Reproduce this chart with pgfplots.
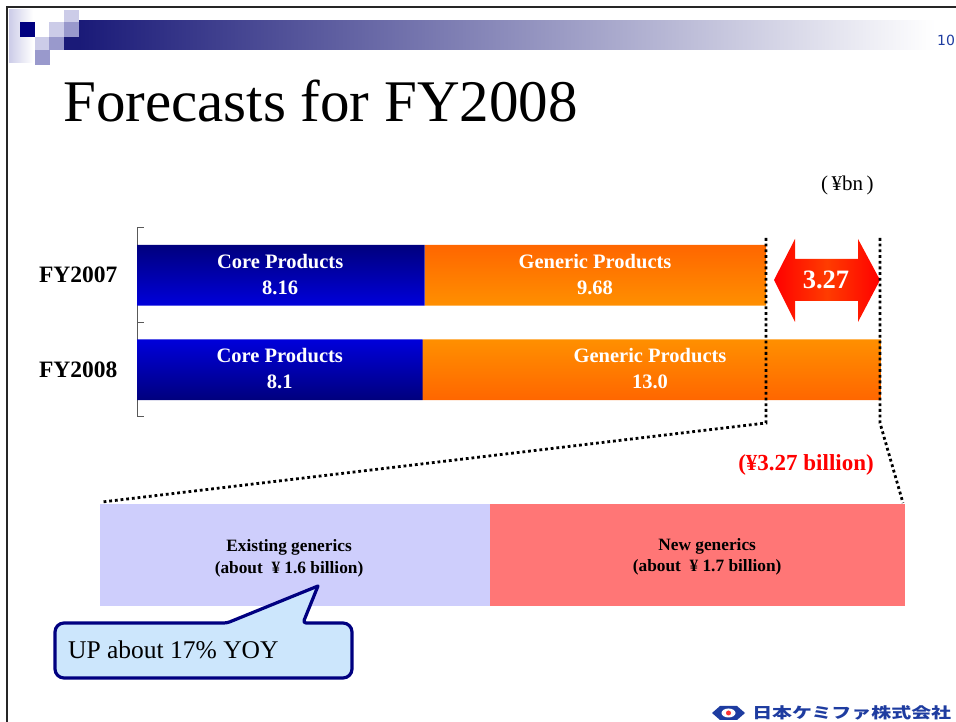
\documentclass[border=0pt]{standalone}
\usepackage{pgfplots}
\pgfplotsset{compat=1.18}
\usepackage{fontspec}
\setmainfont{Liberation Serif}
\newfontfamily\numfont{DejaVu Sans}
\newfontfamily\cjk{Noto Sans CJK JP}
\definecolor{navy}{RGB}{0,0,128}
\definecolor{coreblue}{RGB}{0,0,245}
\definecolor{coredark}{RGB}{0,0,125}
\definecolor{orangeA}{RGB}{255,102,0}
\definecolor{orangeB}{RGB}{255,155,0}
\definecolor{lav}{RGB}{206,206,252}
\definecolor{redpat}{RGB}{255,118,118}
\definecolor{callfill}{RGB}{204,230,252}
\definecolor{sqlight}{RGB}{204,204,232}
\definecolor{sqmed}{RGB}{153,153,204}
\definecolor{barnavy}{RGB}{26,26,120}
\definecolor{logoblue}{RGB}{30,60,160}
\definecolor{arrred}{RGB}{255,0,0}
\definecolor{arrmid}{RGB}{255,60,0}
\begin{document}
\begin{tikzpicture}
\path[use as bounding box] (0pt,0pt) rectangle (956pt,722pt);
\begin{scope}
\clip (0pt,0pt) rectangle (956pt,722pt);
\begin{scope}[x=1pt,y=1pt]
% ---------- header decoration ----------
\shade[left color=sqlight, right color=white] (9,659) rectangle (33,712);
\shade[left color=barnavy, right color=white] (79,672) rectangle (935,701);
\fill[barnavy] (64,672) rectangle (79,685);
\fill[navy] (20,685) rectangle (35,700);
\fill[sqlight] (64,700) rectangle (79,712);
\fill[sqlight] (49,685) rectangle (64,700);
\fill[sqmed] (64,685) rectangle (79,700);
\fill[sqlight] (35,672) rectangle (49,685);
\fill[sqmed] (49,672) rectangle (64,685);
\fill[sqmed] (35,657) rectangle (50,672);
\draw[line width=2pt, black!85] (7,-5) -- (7,715) -- (960,715);
\node[anchor=base west, inner sep=0, font=\numfont\fontsize{14}{16}\selectfont, text=logoblue] at (937,676) {10};
% ---------- title ----------
\node[anchor=base west, inner sep=0, font=\fontsize{59}{64}\selectfont] at (63,600) {Forecasts for FY2008};
\node[anchor=base west, inner sep=0, font=\fontsize{21}{24}\selectfont] at (821,531) {(\,¥bn\,)};
\end{scope}
% ---------- main stacked bars ----------
\begin{axis}[
  at={(137pt,305pt)}, anchor=south west,
  scale only axis, width=775.7pt, height=189pt,
  xbar stacked, bar width=0.645,
  xmin=0, xmax=22, ymin=-0.5, ymax=1.5,
  axis x line=none, axis y line*=left,
  ytick={0,1}, yticklabels={FY2008,FY2007},
  major tick length=0pt,
  minor ytick={-0.5,0.5,1.5}, minor tick length=7pt, tick align=inside,
  tick style={black!65, line width=1pt},
  axis line style={black!65, line width=1pt},
  yticklabel style={font=\bfseries\fontsize{23.5}{26}\selectfont, xshift=-16pt},
  clip=false,
]
\addplot[draw=none, top color=coredark, bottom color=coredark, middle color=coreblue]
  coordinates {(8.1,0) (8.16,1)};
\addplot[draw=none, top color=orangeA, bottom color=orangeA, middle color=orangeB]
  coordinates {(13.0,0) (9.68,1)};
\coordinate (L1) at (axis cs:4.06,1.01);
\coordinate (L2) at (axis cs:12.99,1.01);
\coordinate (L3) at (axis cs:4.05,0.01);
\coordinate (L4) at (axis cs:14.55,0.01);
\end{axis}
\node[align=center, text=white, font=\bfseries\fontsize{20.5}{26}\selectfont] at (L1) {Core Products\\8.16};
\node[align=center, text=white, font=\bfseries\fontsize{20.5}{26}\selectfont] at (L2) {Generic Products\\9.68};
\node[align=center, text=white, font=\bfseries\fontsize{20.5}{26}\selectfont] at (L3) {Core Products\\8.1};
\node[align=center, text=white, font=\bfseries\fontsize{20.5}{26}\selectfont] at (L4) {Generic Products\\13.0};
% ---------- breakdown bar ----------
\begin{axis}[
  at={(100pt,116pt)}, anchor=south west,
  scale only axis, width=805pt, height=102pt,
  xbar stacked, bar width=1,
  xmin=0, xmax=3.3, ymin=-0.5, ymax=0.5,
  hide axis, clip=false,
]
\addplot[draw=none, fill=lav] coordinates {(1.6,0)};
\addplot[draw=none, fill=redpat] coordinates {(1.7,0)};
\coordinate (B1) at (axis cs:0.775,-0.035);
\coordinate (B2) at (axis cs:2.489,-0.02);
\end{axis}
\node[align=center, font=\bfseries\fontsize{17.3}{21.5}\selectfont] at (B1) {Existing generics\\(about~ ¥ 1.6 billion)};
\node[align=center, font=\bfseries\fontsize{17.3}{21.5}\selectfont] at (B2) {New generics\\(about~ ¥ 1.7 billion)};
\begin{scope}[x=1pt,y=1pt]
% ---------- difference arrow ----------
\shade[left color=arrred, right color=arrred, middle color=arrmid]
  (774,442) -- (795,483) -- (795,463) -- (858,463) -- (858,483) -- (880,442)
  -- (858,400) -- (858,421) -- (795,421) -- (795,400) -- cycle;
\node[text=white, font=\bfseries\fontsize{26.5}{28}\selectfont] at (826,442) {3.27};
% ---------- dotted guide lines ----------
\draw[line width=2.8pt, dash pattern=on 2.8pt off 2.9pt] (766,484) -- (766,299) -- (102,220);
\draw[line width=2.8pt, dash pattern=on 2.8pt off 2.9pt] (880,484) -- (880,299) -- (903,219);
\node[anchor=base, text=red, font=\bfseries\fontsize{23}{26}\selectfont] at (806,251) {(¥3.27 billion)};
% ---------- callout ----------
\draw[line width=3.2pt, draw=navy, fill=callfill, line join=round]
  (318,136) [rounded corners=3pt] -- (303,99) [rounded corners=9pt] -- (352,99) -- (352,44) -- (55,44) -- (55,99) [rounded corners=3pt] -- (227,99) [sharp corners] -- cycle;
\node[anchor=base west, inner sep=0, font=\fontsize{25.5}{28}\selectfont] at (68,63) {UP about 17\% YOY};
% ---------- logo ----------
\fill[logoblue] (712,9) -- (720,16) -- (737,16) -- (745,9) -- (737,2) -- (720,2) -- cycle;
\fill[white] (728.5,9) ellipse (7 and 4.5);
\fill[red!80] (728.5,9) circle (2.5);
\node[anchor=base west, inner sep=0, text=logoblue, font=\cjk\bfseries\fontsize{15}{16}\selectfont, xscale=1.33] at (752,3) {日本ケミファ株式会社};
\end{scope}
\end{scope}
\end{tikzpicture}
\end{document}
